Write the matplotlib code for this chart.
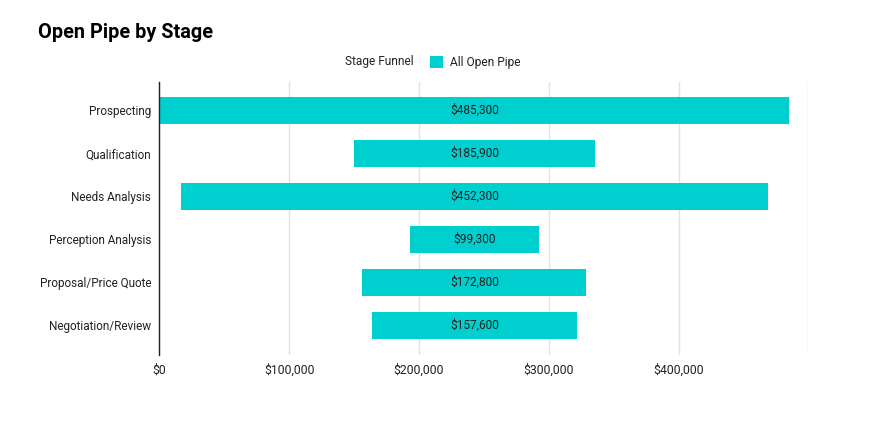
import matplotlib
matplotlib.use("Agg")
import matplotlib.pyplot as plt
from matplotlib.patches import Patch

stages = ["Prospecting", "Qualification", "Needs Analysis", "Perception Analysis",
          "Proposal/Price Quote", "Negotiation/Review"]
values = [485300, 185900, 452300, 99300, 172800, 157600]
x_ticks = [0, 100000, 200000, 300000, 400000, 500000]
series_name = "All Open Pipe"
legend_title = "Stage Funnel"
title = "Open Pipe by Stage"

plt.rcParams['font.family'] = ['Roboto', 'DejaVu Sans']
color = '#00CFCF'
text_color = '#222222'

fig = plt.figure(figsize=(8.87, 4.22), dpi=100)
ax = fig.add_axes([159.5 / 887, 1 - 355 / 422, (808.3 - 159.5) / 887, (355 - 82) / 422])

center = max(values) / 2
lefts = [center - v / 2 for v in values]
ypos = list(range(len(stages)))
ax.barh(ypos, values, left=lefts, height=0.64, color=color, zorder=3)
for y, l, v in zip(ypos, lefts, values):
    ax.text(l + v / 2, y, f"${v:,.0f}", ha='center', va='center', fontsize=8.6,
            color=text_color, zorder=4)

ax.set_yticks(ypos)
ax.set_yticklabels(stages, fontsize=8.5, color=text_color)
ax.set_ylim(5.69, -0.66)
ax.set_xlim(0, 500000)
ax.set_xticks(x_ticks)
ax.set_xticklabels([f"${t:,.0f}" if t < 500000 else "" for t in x_ticks],
                   fontsize=8.8, color=text_color)
ax.tick_params(axis='both', length=0)
ax.tick_params(axis='y', pad=6)
ax.tick_params(axis='x', pad=6)
ax.grid(axis='x', color='#e2e2e2', linewidth=1, zorder=0)
for s in ['top', 'right', 'bottom']:
    ax.spines[s].set_visible(False)
ax.spines['left'].set_color('#222222')
ax.spines['left'].set_linewidth(1)
ax.spines['left'].set_zorder(5)

fig.text(38 / 887, 1 - 33 / 422, title, fontsize=14.3, fontweight='bold',
         ha='left', va='center', color='#000000')
fig.text(413.5 / 887, 1 - 62 / 422, legend_title, fontsize=8.6, ha='right',
         va='center', color=text_color)
leg = fig.legend([Patch(facecolor=color, edgecolor='none')], [series_name],
                 loc='center left', bbox_to_anchor=(430 / 887, 1 - 62.5 / 422),
                 frameon=False, fontsize=8.6, handlelength=1.07, handleheight=1.25,
                 handletextpad=0.62, borderaxespad=0, borderpad=0)
for t in leg.get_texts():
    t.set_color(text_color)

fig.savefig("out.png", dpi=100)
